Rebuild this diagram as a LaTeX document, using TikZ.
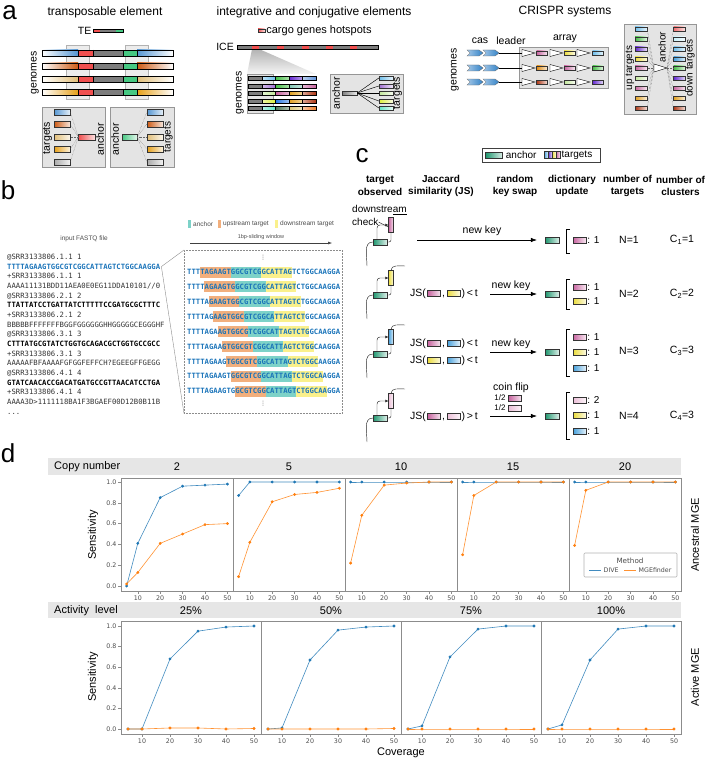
\documentclass[tikz,border=0pt]{standalone}
\usepackage{fontspec}
\setmainfont{Liberation Sans}
\newfontfamily\seqfont{DejaVu Sans Mono}
\newfontfamily\tickfont{DejaVu Sans}
\usetikzlibrary{arrows.meta,positioning}
\definecolor{teblue}{RGB}{85,150,210}
\definecolor{teorange}{RGB}{205,90,20}
\definecolor{tetan}{RGB}{225,190,120}
\definecolor{tegold}{RGB}{230,160,25}
\definecolor{tered}{RGB}{240,80,80}
\definecolor{tegreen}{RGB}{70,200,130}
\definecolor{tegray}{RGB}{125,125,125}
\definecolor{tegrayl}{RGB}{170,170,170}
\definecolor{boxgray}{RGB}{228,228,228}
\definecolor{boxedge}{RGB}{150,150,150}
\definecolor{cpink}{RGB}{200,100,160}
\definecolor{clpink}{RGB}{235,190,215}
\definecolor{cyellow}{RGB}{235,220,60}
\definecolor{cblue}{RGB}{70,160,220}
\definecolor{cltblue}{RGB}{110,190,235}
\definecolor{cteal}{RGB}{30,150,110}
\definecolor{cviolet}{RGB}{100,40,210}
\definecolor{cgreen}{RGB}{70,190,70}
\definecolor{clgreen}{RGB}{195,232,155}
\definecolor{cbrown}{RGB}{175,55,20}
\definecolor{corange}{RGB}{225,140,20}
\definecolor{cgold}{RGB}{225,160,30}
\definecolor{csalmon}{RGB}{240,110,110}
\definecolor{cpcyan}{RGB}{200,240,250}
\definecolor{csteel}{RGB}{100,150,220}
\definecolor{clav}{RGB}{160,110,210}
\definecolor{cpteal}{RGB}{130,200,180}
\definecolor{clime}{RGB}{220,240,60}
\definecolor{cdblue}{RGB}{40,120,230}
\definecolor{caqua}{RGB}{100,230,200}
\definecolor{csage}{RGB}{80,120,90}
\definecolor{ckhaki}{RGB}{220,200,120}
\definecolor{corg}{RGB}{240,130,50}
\definecolor{casblue}{RGB}{50,130,200}
\definecolor{seqblue}{RGB}{25,115,185}
\definecolor{hlorange}{RGB}{242,175,125}
\definecolor{hlteal}{RGB}{125,210,200}
\definecolor{hlyellow}{RGB}{250,240,140}
\definecolor{dive}{RGB}{31,119,180}
\definecolor{mgef}{RGB}{255,127,14}
\definecolor{bandgray}{RGB}{230,230,230}

\begin{document}
\begin{tikzpicture}[x=1pt, y=-1pt,
  panel/.style={inner sep=0pt, font=\fontsize{26}{26}\selectfont},
  title/.style={font=\fontsize{12}{14}\selectfont},
  lab/.style={inner sep=1pt, font=\fontsize{10.5}{12}\selectfont},
  vlab/.style={lab, rotate=90},
  small/.style={inner sep=1pt, font=\fontsize{6.5}{8}\selectfont, text=black!70},
  hdr/.style={align=center, font=\fontsize{10}{12.5}\selectfont\bfseries},
  gbox/.style={draw=boxedge, fill=boxgray, line width=0.8pt},
  chip/.style={rectangle, draw=black!80, line width=0.35pt, inner sep=0pt,
               minimum width=13pt, minimum height=6pt, left color=#1, right color=#1!15!white},
  vchip/.style={chip=#1, minimum width=5pt, minimum height=15pt},
  dotline/.style={black!60, densely dotted, line width=0.4pt},
  readline/.style={black!85, line width=0.45pt},
  keyarrow/.style={-{Latex[length=6pt,width=4.5pt]}, line width=0.6pt},
  fq/.style={anchor=base west, inner sep=0pt, text=black!80, font=\seqfont\fontsize{7.26}{8}\selectfont},
  seqrow/.style={anchor=west, inner sep=0pt, text=seqblue, font=\seqfont\bfseries\fontsize{7.26}{8}\selectfont},
  frame/.style={draw=black!45, line width=0.6pt},
  ticklab/.style={inner sep=1pt, font=\tickfont\fontsize{6.3}{7}\selectfont, text=black!70},
  diveline/.style={dive!85, line width=0.6pt, mark=*, mark size=1.1pt, mark options={fill=dive, draw=dive}},
  mgeline/.style={mgef!85, line width=0.6pt, mark=*, mark size=1.1pt, mark options={fill=mgef, draw=mgef}}
]
\useasboundingbox (0,0) rectangle (708,760);

\node[panel] (pa) at (9.5,13) {a};
\node[title] (ttlTE) at (105,12) {transposable element};
\node[lab, anchor=east] (teKey) at (92.5,31) {TE};
\fill[tered] (93,29.5) rectangle (100,32.5);
\fill[tegray] (100,29.5) rectangle (116,32.5);
\fill[tegreen] (116,29.5) rectangle (123,32.5);
\draw[line width=0.3pt] (93,29.5) rectangle (123,32.5);
\draw[draw=gray!60, fill=gray!15] (66,45) rectangle (89,99);
\draw[draw=gray!60, fill=gray!15] (125,45) rectangle (148,99);
\foreach \y/\col in {53/teblue, 66/teorange, 79/tetan, 92/tegold} {
  \shade[left color=white, right color=\col] (42,\y-3) rectangle (78,\y+3);
  \fill[tered] (78,\y-3) rectangle (93,\y+3);
  \fill[tegray] (93,\y-3) rectangle (123,\y+3);
  \fill[tegreen] (123,\y-3) rectangle (137,\y+3);
  \shade[left color=\col, right color=white] (137,\y-3) rectangle (173,\y+3);
  \draw[line width=0.6pt] (42,\y-3) rectangle (173,\y+3);
  \foreach \xx in {78,93,123,137} \draw[line width=0.4pt] (\xx,\y-3) -- (\xx,\y+3);
}
\node[vlab] (genTE) at (35,73) {genomes};
\draw[gbox] (42,107) rectangle (105,167);
\draw[gbox] (110,107) rectangle (174,167);
\node[vlab] (tgLabL) at (47.5,138) {targets};
\node[vlab] (anLabL) at (100,139) {anchor};
\node[vlab] (anLabR) at (115,139) {anchor};
\node[vlab, font=\fontsize{10}{12}\selectfont] (tgLabR) at (168.5,137) {targets};
\node[chip=tered, minimum width=17pt] (ancL) at (87,137) {};
\node[chip=tegreen, minimum width=15pt] (ancR) at (129.5,137) {};
\foreach \kk/\y/\col in {1/112/teblue, 2/124/teorange, 3/137/tetan, 4/149/tegold, 5/162/tegrayl} {
  \node[chip=\col, minimum width=16pt] (tgL\kk) at (62,\y) {};
  \node[chip=\col, minimum width=16pt] (tgR\kk) at (155,\y) {};
  \draw[dotline] (ancL.west) -- (tgL\kk.east);
  \draw[dotline] (ancR.east) -- (tgR\kk.west);
}

\node[title] (ttlICE) at (314,12) {integrative and conjugative elements};
\node[chip=tered, minimum width=7pt, minimum height=3pt] (cargoKey) at (261.5,30.5) {};
\node[lab, anchor=west, font=\fontsize{11}{12}\selectfont] (cargoLab) at (cargoKey.east) {cargo genes hotspots};
\node[lab, anchor=east] (iceLab) at (235,47) {ICE};
\shade[top color=gray!60, bottom color=gray!8] (252,49) -- (259,49) -- (316,74) -- (247,74) -- cycle;
\fill[tegray] (237,45.5) rectangle (378,49);
\foreach \xx in {252,277,302,326,350} \fill[tered] (\xx,45.5) rectangle (\xx+7,49);
\draw[line width=0.35pt] (237,45.5) rectangle (378,49);
\fill[boxgray, draw=boxedge, line width=0.6pt] (247,74) rectangle (273,113);
\foreach \y/\ca/\cb/\cc/\cd in {78/cltblue/cgreen/cviolet/csteel, 86/clav/cgreen/cpteal/cpink,
    93/clgreen/cpink/cgold/cbrown, 101/clime/cdblue/cgold/cbrown, 108/caqua/csage/ckhaki/corg} {
  \fill[tegray] (248,\y-1.8) rectangle (262,\y+1.8);
  \shade[left color=\ca!45!white, right color=\ca] (262,\y-1.8) rectangle (275.5,\y+1.8);
  \shade[left color=\cb, right color=\cb!45!white] (275.5,\y-1.8) rectangle (289,\y+1.8);
  \shade[left color=\cc, right color=\cc!45!white] (289,\y-1.8) rectangle (302.5,\y+1.8);
  \shade[left color=\cd!45!white, right color=\cd] (302.5,\y-1.8) rectangle (316,\y+1.8);
  \draw[line width=0.4pt] (248,\y-1.8) rectangle (316,\y+1.8);
  \foreach \xx in {262,275.5,289,302.5} \draw[line width=0.3pt] (\xx,\y-1.8) -- (\xx,\y+1.8);
}
\node[vlab] (genICE) at (240,93) {genomes};
\draw[gbox] (330,74) rectangle (403,113);
\node[vlab] (anLabI) at (336,93) {anchor};
\node[vlab] (tgLabI) at (397.5,93) {targets};
\node[chip=tegray, minimum width=15pt, minimum height=4pt] (ancI) at (349.5,93) {};
\foreach \kk/\y/\col in {1/78/cltblue, 2/86/clav, 3/93/clgreen, 4/101/clime, 5/108/caqua} {
  \node[chip=\col, minimum width=14pt, minimum height=4pt] (tgI\kk) at (386,\y) {};
  \draw[line width=0.45pt] (ancI.east) -- (tgI\kk.west);
}

\node[title] (ttlCR) at (565,12) {CRISPR systems};
\node[lab] (casLab) at (480,41) {cas};
\node[lab] (ldLab) at (511,41) {leader};
\node[lab] (arLab) at (565,39) {array};
\node[vlab] (genCR) at (455,70) {genomes};
\draw[gbox] (519,47) rectangle (608,88);
\foreach \y/\ca/\cb/\cc in {53/cpink/cyellow/cltblue, 68/corange/cpink/cgreen, 82/cbrown/clgreen/cviolet} {
  \foreach \xx in {467,483}
    \shadedraw[left color=casblue!45!white, right color=casblue, draw=black!60, line width=0.3pt]
      (\xx,\y-3) -- (\xx+12,\y-3) -- (\xx+16,\y) -- (\xx+12,\y+3) -- (\xx,\y+3) -- (\xx+3,\y) -- cycle;
  \draw[line width=0.5pt] (499,\y) -- (522,\y);
  \foreach \xx in {522,550,577}
    \draw[fill=white, line width=0.4pt] (\xx,\y-3.5) -- (\xx+13,\y) -- (\xx,\y+3.5) -- cycle;
  \node[chip=\ca, minimum width=11pt, minimum height=4pt] (spA\y) at (542,\y) {};
  \node[chip=\cb, minimum width=11pt, minimum height=4pt] (spB\y) at (569.5,\y) {};
  \node[chip=\cc, minimum width=11pt, minimum height=4pt] (spC\y) at (598,\y) {};
}
\draw[gbox] (624,24) rectangle (696,114);
\coordinate (crL) at (654,68);
\coordinate (crR) at (667,68);
\foreach \kk/\y/\ca/\cb in {1/29/cltblue/csalmon, 2/39/cgreen/cpcyan, 3/49/cviolet/cltblue,
    4/59/cyellow/cblue, 5/68/cpink/cgreen, 6/78/clgreen/cviolet, 7/88/cpink/cpink,
    8/98/cgold/cgold, 9/108/cbrown/cbrown} {
  \node[chip=\ca, minimum width=12pt, minimum height=4pt] (tgU\kk) at (641,\y) {};
  \node[chip=\cb, minimum width=12pt, minimum height=4pt] (tgD\kk) at (679.5,\y) {};
  \draw[dotline] (crL) -- (tgU\kk.east);
  \draw[dotline] (crR) -- (tgD\kk.west);
}
\draw[fill=white, line width=0.4pt] (654,64) -- (crR) -- (654,72) -- cycle;
\node[vlab, font=\fontsize{10}{12}\selectfont] (upLab) at (630,68) {up targets};
\node[vlab, font=\fontsize{10}{12}\selectfont] (anLabC) at (662,47) {anchor};
\node[vlab, font=\fontsize{10}{12}\selectfont] (dnLab) at (690,68) {down targets};

\node[panel] (pb) at (8,190) {b};
\node[small] (fqTitle) at (84,239) {input FASTQ file};
\node[fq] (q1) at (7,259.6) {@SRR3133806.1.1 1};
\node[fq, text=seqblue, font=\seqfont\bfseries\fontsize{7.26}{8}\selectfont] (q2) at (7,269.25) {TTTTAGAAGTGGCGTCGGCATTAGTCTGGCAAGGA};
\node[fq] (q3) at (7,278.9) {+SRR3133806.1.1 1};
\node[fq] (q4) at (7,288.55) {AAAA11131BDD11AEA0E0EG11DDA10101//0};
\node[fq] (q5) at (7,298.2) {@SRR3133806.2.1 2};
\node[fq, text=black, font=\seqfont\bfseries\fontsize{7.26}{8}\selectfont] (q6) at (7,307.85) {TTATTATCCTGATTATCTTTTTCCGATGCGCTTTC};
\node[fq] (q7) at (7,317.5) {+SRR3133806.2.1 2};
\node[fq] (q8) at (7,327.15) {BBBBBFFFFFFFBGGFGGGGGGHHGGGGGCEGGGHF};
\node[fq] (q9) at (7,336.8) {@SRR3133806.3.1 3};
\node[fq, text=black, font=\seqfont\bfseries\fontsize{7.26}{8}\selectfont] (q10) at (7,346.45) {CTTTATGCGTATCTGGTGCAGACGCTGGTGCCGCC};
\node[fq] (q11) at (7,356.1) {+SRR3133806.3.1 3};
\node[fq] (q12) at (7,365.75) {AAAAAFBFAAAAFGFGGFEFFCH?EGEEGFFGEGG};
\node[fq] (q13) at (7,375.4) {@SRR3133806.4.1 4};
\node[fq, text=black, font=\seqfont\bfseries\fontsize{7.26}{8}\selectfont] (q14) at (7,385.05) {GTATCAACACCGACATGATGCCGTTAACATCCTGA};
\node[fq] (q15) at (7,394.7) {+SRR3133806.4.1 4};
\node[fq] (q16) at (7,404.35) {AAAA3D>1111118BA1F3BGAEF00D12B0B11B};
\node[fq] (q17) at (7,414) {...};
\fill[hlteal] (188,220) rectangle (191,228);
\node[small, anchor=west] (lgA) at (192,224) {anchor};
\fill[hlorange] (218,220) rectangle (221,228);
\node[small, anchor=west] (lgU) at (222,224) {upstream target};
\fill[hlyellow] (275,220) rectangle (278,228);
\node[small, anchor=west] (lgD) at (279,224) {downstream target};
\node[small, font=\fontsize{5.5}{6}\selectfont] (slide) at (261,237) {1bp-sliding window};
\coordinate (swL) at (190,243);
\coordinate (swR) at (332,243);
\draw[-{Latex[length=4pt,width=3pt]}, line width=0.5pt, black!75] (swL) -- (swR);
\node[draw=black!45, densely dotted, line width=0.5pt, minimum width=158pt, minimum height=163pt,
      anchor=north west, inner sep=0pt] (win) at (184,250) {};
\draw[black!45, line width=0.4pt] ([xshift=1pt]q2.east) -- (win.north west);
\draw[black!45, line width=0.4pt] ([xshift=1pt]q2.east) -- (win.south west);
\node[small, inner sep=0pt, font=\tickfont\fontsize{6}{6}\selectfont] (vdTop) at (263,258) {⋮};
\node[small, inner sep=0pt, font=\tickfont\fontsize{6}{6}\selectfont] (vdBot) at (263,404) {⋮};
\foreach \s in {0,...,8} {
  \pgfmathsetmacro{\ry}{272+14.9*\s}
  \pgfmathsetmacro{\xa}{187+(3+\s)*4.371}
  \pgfmathsetmacro{\xb}{187+(10+\s)*4.371}
  \pgfmathsetmacro{\xc}{187+(17+\s)*4.371}
  \pgfmathsetmacro{\xd}{187+(24+\s)*4.371}
  \fill[hlorange] (\xa,\ry-5.5) rectangle (\xb,\ry+5.5);
  \fill[hlteal] (\xb,\ry-5.5) rectangle (\xc,\ry+5.5);
  \fill[hlyellow] (\xc,\ry-5.5) rectangle (\xd,\ry+5.5);
  \node[seqrow] (row\s) at (187,\ry) {TTTTAGAAGTGGCGTCGGCATTAGTCTGGCAAGGA};
}

\node[panel] (pc) at (362,156) {c};
\draw[draw=black!75, line width=0.8pt] (482,148) rectangle (600,162);
\node[chip=cteal, minimum width=17pt] (lgAnc) at (494,155) {};
\node[lab, anchor=west, font=\fontsize{10}{12}\selectfont] (lgAncT) at ([xshift=2pt]lgAnc.east) {anchor};
\foreach \kk/\col in {0/cblue, 1/cviolet, 2/cyellow, 3/cpink}
  \node[chip=\col, minimum width=4pt, minimum height=7pt] (lgT\kk) at (546+4*\kk,155) {};
\node[lab, anchor=west, font=\fontsize{10}{12}\selectfont] (lgTT) at (560.5,155) {targets};
\node[hdr] (h1) at (380,186) {target\\observed};
\node[hdr] (h2) at (441,186) {Jaccard\\similarity (JS)};
\node[hdr] (h3) at (515,186) {random\\key swap};
\node[hdr] (h4) at (572,186) {dictionary\\update};
\node[hdr] (h5) at (627.5,186) {number of\\targets};
\node[hdr] (h6) at (680.5,186) {number of\\clusters};
\node[lab, anchor=west, inner sep=0pt, font=\fontsize{10}{12}\selectfont] (dsTxt) at (352,210) {downstre\underline{am}};
\node[lab, anchor=west, inner sep=0pt, font=\fontsize{10}{12}\selectfont] (ckTxt) at (352,222) {check};
\foreach \i/\ry/\col in {1/240/cpink, 2/293/cyellow, 3/352/cblue, 4/416/clpink} {
  \node[chip=cteal, minimum width=14pt, minimum height=5.5pt] (icA\i) at (380,\ry+2) {};
  \node[vchip=\col] (icT\i) at (391,\ry-15) {};
  \draw[readline, -{Latex[length=3pt,width=3pt]}, rounded corners=3pt] ([xshift=-3pt]icA\i.north) |- (icT\i.west);
  \draw[readline, rounded corners=2pt] (icT\i.south) |- (icA\i.east);
  \draw[readline] (icA\i.west) to[out=180, in=90] (367,\ry+26);
}
\foreach \i/\ry in {2/293, 3/352, 4/416}
  \draw[readline] (icT\i.north) to[out=90, in=180] (405,\ry-27);
\draw[readline] (ckTxt.east) -- ([yshift=-2pt]icT1.west);
\foreach \j/\y/\ca/\cb/\op in {2/293/cpink/cyellow/<, 3/343/cpink/cblue/<, 5/360/cyellow/cblue/<, 4/416/cpink/clpink/>} {
  \node[lab, anchor=base west, inner sep=0pt] (js\j) at (410,\y+3.7) {JS(};
  \node[chip=\ca, minimum height=5.5pt] (jsA\j) at (434,\y) {};
  \node[lab, anchor=base west, inner sep=0pt] (jsC\j) at (442,\y+3.7) {,};
  \node[chip=\cb, minimum height=5.5pt] (jsB\j) at (453.5,\y) {};
  \node[lab, anchor=base west, inner sep=0pt] (jsE\j) at (461.5,\y+3.7) {)\,\op\,t};
}
\foreach \i/\y in {1/240, 2/294, 3/352, 4/416}
  \node[chip=cteal, minimum width=14pt] (dAnc\i) at (552,\y) {};
\coordinate (ks1) at (417,240);
\foreach \i/\y in {2/294, 3/352, 4/416}
  \coordinate (ks\i) at (490,\y);
\foreach \i in {1,...,4}
  \draw[keyarrow] (ks\i) -- ([xshift=-8pt]dAnc\i.west);
\node[lab] (nk1) at (482,231) {new key};
\node[lab] (nk2) at (511,286) {new key};
\node[lab] (nk3) at (511,344) {new key};
\node[lab] (coin) at (511,388) {coin flip};
\node[lab, font=\fontsize{8}{9}\selectfont] (half1) at (500,398) {1/2};
\node[chip=cpink] (hc1) at (515,398) {};
\node[lab, font=\fontsize{8}{9}\selectfont] (half2) at (500,408) {1/2};
\node[chip=clpink] (hc2) at (515,408) {};
\foreach \tp/\bt in {229/253, 279/309, 329/376, 392/439}
  \draw[line width=0.6pt] (570,\tp) -- (566,\tp) -- (566,\bt) -- (570,\bt);
\foreach \n/\y/\col/\val in {a/240/cpink/1, b/287/cpink/1, c/301/cyellow/1, d/337/cpink/1, e/352/cyellow/1,
    f/368/cblue/1, g/400/clpink/2, h/415/cyellow/1, i/431/cblue/1} {
  \node[chip=\col] (de\n) at (579.5,\y) {};
  \node[lab, anchor=west, font=\fontsize{10}{12}\selectfont] (dv\n) at (de\n.east) {: \val};
}
\foreach \i/\y/\nn/\cc in {1/240/1/1, 2/294/2/2, 3/351/3/3, 4/416/4/3} {
  \node[lab] (nT\i) at (629,\y) {N=\nn};
  \node[lab] (nC\i) at (682,\y) {C\textsubscript{\i}=\cc};
}

\node[panel] (pd) at (8,453) {d};
\fill[bandgray] (48,458) rectangle (681,475);
\fill[bandgray] (48,602) rectangle (681,618);
\node[lab, anchor=west, font=\fontsize{11}{12}\selectfont] (cnLab) at (53,466.5) {Copy number};
\node[lab, anchor=west, font=\fontsize{11}{12}\selectfont] (alLab) at (53,610.5) {Activity~ level};
\foreach \i/\t in {0/2, 1/5, 2/10, 3/15, 4/20}
  \node[lab, font=\fontsize{11}{12}\selectfont] (cn\i) at (177+112*\i,467) {\t};
\foreach \i/\t in {0/25\%, 1/50\%, 2/75\%, 3/100\%}
  \node[lab, font=\fontsize{11}{12}\selectfont] (al\i) at (191+140*\i,611) {\t};
\foreach \lx in {121,233,345,457,569} {
  \draw[frame] (\lx,478) rectangle (\lx+112,591);
  \foreach \cv in {10,20,30,40,50} {
    \draw[frame] (\lx+2.24*\cv-5.6,591) -- ++(0,3);
    \node[ticklab] at (\lx+2.24*\cv-5.6,598) {\cv};
  }
}
\foreach \lx in {121,261,401,541} {
  \draw[frame] (\lx,621) rectangle (\lx+140,734);
  \foreach \cv in {10,20,30,40,50} {
    \draw[frame] (\lx+2.8*\cv-7,734) -- ++(0,3);
    \node[ticklab] at (\lx+2.8*\cv-7,741) {\cv};
  }
}
\foreach \val in {0.0,0.2,0.4,0.6,0.8,1.0} {
  \draw[frame] (121,586-104*\val) -- ++(-3,0);
  \node[ticklab, anchor=east] at (117.5,586-104*\val) {\val};
  \draw[frame] (121,729-103*\val) -- ++(-3,0);
  \node[ticklab, anchor=east] at (117.5,729-103*\val) {\val};
}
\begin{scope}[xshift=115.4pt, yshift=-586pt, x=2.24pt, y=104pt]
  \draw[diveline] plot coordinates {(5,0) (10,0.41) (20,0.85) (30,0.96) (40,0.97) (50,0.98)};
  \draw[mgeline] plot coordinates {(5,0.02) (10,0.13) (20,0.41) (30,0.50) (40,0.59) (50,0.60)};
\end{scope}
\begin{scope}[xshift=227.4pt, yshift=-586pt, x=2.24pt, y=104pt]
  \draw[diveline] plot coordinates {(5,0.87) (10,1) (20,1) (30,1) (40,1) (50,1)};
  \draw[mgeline] plot coordinates {(5,0.09) (10,0.42) (20,0.81) (30,0.88) (40,0.90) (50,0.94)};
\end{scope}
\begin{scope}[xshift=339.4pt, yshift=-586pt, x=2.24pt, y=104pt]
  \draw[diveline] plot coordinates {(5,1) (10,1) (20,1) (30,1) (40,1) (50,1)};
  \draw[mgeline] plot coordinates {(5,0.22) (10,0.68) (20,0.97) (30,0.99) (40,1) (50,1)};
\end{scope}
\begin{scope}[xshift=451.4pt, yshift=-586pt, x=2.24pt, y=104pt]
  \draw[diveline] plot coordinates {(5,1) (10,1) (20,1) (30,1) (40,1) (50,1)};
  \draw[mgeline] plot coordinates {(5,0.30) (10,0.87) (20,1) (30,1) (40,1) (50,1)};
\end{scope}
\begin{scope}[xshift=563.4pt, yshift=-586pt, x=2.24pt, y=104pt]
  \draw[diveline] plot coordinates {(5,1) (10,1) (20,1) (30,1) (40,1) (50,1)};
  \draw[mgeline] plot coordinates {(5,0.39) (10,0.92) (20,1) (30,1) (40,1) (50,1)};
\end{scope}
\begin{scope}[xshift=114pt, yshift=-729pt, x=2.8pt, y=103pt]
  \draw[diveline] plot coordinates {(5,0) (10,0) (20,0.68) (30,0.95) (40,0.99) (50,1)};
  \draw[mgeline] plot coordinates {(5,0) (10,0) (20,0.01) (30,0.01) (40,0) (50,0.005)};
\end{scope}
\begin{scope}[xshift=254pt, yshift=-729pt, x=2.8pt, y=103pt]
  \draw[diveline] plot coordinates {(5,0) (10,0.01) (20,0.67) (30,0.96) (40,0.99) (50,1)};
  \draw[mgeline] plot coordinates {(5,0) (10,0) (20,0) (30,0) (40,0) (50,0.005)};
\end{scope}
\begin{scope}[xshift=394pt, yshift=-729pt, x=2.8pt, y=103pt]
  \draw[diveline] plot coordinates {(5,0) (10,0.03) (20,0.70) (30,0.97) (40,1) (50,1)};
  \draw[mgeline] plot coordinates {(5,0) (10,0) (20,0) (30,0) (40,0) (50,0)};
\end{scope}
\begin{scope}[xshift=534pt, yshift=-729pt, x=2.8pt, y=103pt]
  \draw[diveline] plot coordinates {(5,0) (10,0.04) (20,0.67) (30,0.97) (40,1) (50,1)};
  \draw[mgeline] plot coordinates {(5,0) (10,0) (20,0) (30,0) (40,0) (50,0)};
\end{scope}
\draw[draw=black!30, fill=white, line width=0.6pt, rounded corners=1pt] (584,553) rectangle (677,577);
\node[ticklab, font=\tickfont\fontsize{7.2}{8}\selectfont] (lgM) at (630,560.5) {Method};
\coordinate (lgD1) at (589,570);
\coordinate (lgD2) at (601,570);
\coordinate (lgM1) at (624,570);
\coordinate (lgM2) at (636,570);
\draw[dive!85, line width=0.7pt] (lgD1) -- (lgD2);
\draw[mgef!85, line width=0.7pt] (lgM1) -- (lgM2);
\node[ticklab, anchor=west] (lgDT) at ([xshift=1.5pt]lgD2) {DIVE};
\node[ticklab, anchor=west] (lgMT) at ([xshift=1.5pt]lgM2) {MGEfinder};
\node[vlab, font=\fontsize{11}{12}\selectfont] (sensT) at (93,535) {Sensitivity};
\node[vlab, font=\fontsize{11}{12}\selectfont] (sensB) at (93,677) {Sensitivity};
\node[vlab, font=\fontsize{11}{12}\selectfont] (ancM) at (695,535) {Ancestral MGE};
\node[vlab, font=\fontsize{11}{12}\selectfont] (actM) at (695,677) {Active MGE};
\node[lab, font=\fontsize{11}{12}\selectfont] (covT) at (401,753) {Coverage};
\end{tikzpicture}
\end{document}
